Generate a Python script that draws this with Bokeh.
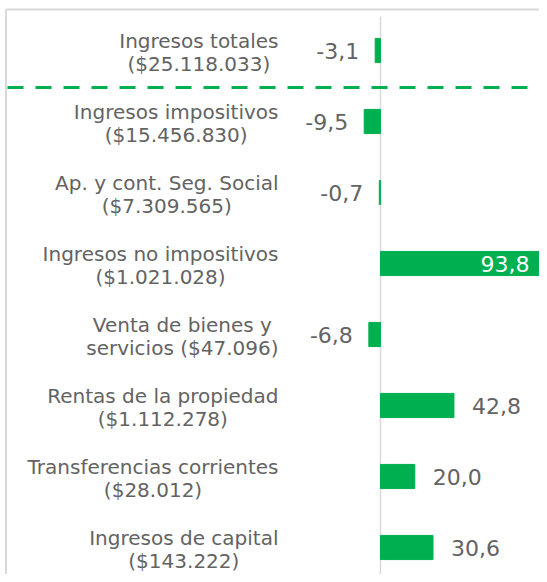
from bokeh.plotting import figure
from bokeh.models import Range1d
from bokeh.core.properties import value
from bokeh.embed import file_html
from bokeh.resources import INLINE

categories = [
    "Ingresos totales\n($25.118.033)",
    "Ingresos impositivos\n($15.456.830)",
    "Ap. y cont. Seg. Social\n($7.309.565)",
    "Ingresos no impositivos\n($1.021.028)",
    "Venta de bienes y\nservicios ($47.096)",
    "Rentas de la propiedad\n($1.112.278)",
    "Transferencias corrientes\n($28.012)",
    "Ingresos de capital\n($143.222)",
]
values = [-3.1, -9.5, -0.7, 93.8, -6.8, 42.8, 20.0, 30.6]
value_labels = ["-3,1", "-9,5", "-0,7", "93,8", "-6,8", "42,8", "20,0", "30,6"]

GREEN = "#00B050"
GRAY_TEXT = "#636363"
LINE_GRAY = "#d9d9d9"
FONT = value("DejaVu Sans")

W, H = 539, 574
ZERO_PX, SCALE_X = 380.0, 1.716      # px of zero, px per unit
ROW0_PX, ROW_STEP = 50.0, 71.0       # px of first row centre, px per row

X0 = -ZERO_PX / SCALE_X
X1 = (W - ZERO_PX) / SCALE_X
Y_TOP = -ROW0_PX / ROW_STEP
Y_BOT = (H - ROW0_PX) / ROW_STEP
XL = (5.5 - ZERO_PX) / SCALE_X       # left border
YT = (9.0 - ROW0_PX) / ROW_STEP      # top border

ys = list(range(len(values)))

p = figure(width=W, height=H, x_range=Range1d(X0, X1), y_range=Range1d(Y_BOT, Y_TOP),
           output_backend="svg", toolbar_location=None, min_border=0)
p.axis.visible = False
p.grid.visible = False
p.outline_line_color = None
p.background_fill_color = "white"

# borders (top and left)
p.segment(x0=[XL, XL], y0=[YT, YT], x1=[XL, X1], y1=[Y_BOT, YT],
          line_color=LINE_GRAY, line_width=2)

# zero line
p.segment(x0=[0], y0=[-0.48], x1=[0], y1=[Y_BOT], line_color=LINE_GRAY, line_width=1.5)

# bars
p.hbar(y=ys, left=0, right=values, height=0.34, fill_color=GREEN, line_color=GREEN)

# dashed separator
p.segment(x0=[(7 - ZERO_PX) / SCALE_X], y0=[0.52], x1=[X1], y1=[0.52],
          line_color=GREEN, line_width=3, line_dash="16 12")

# category labels
p.text(x=[0] * len(ys), y=[y + 0.03 for y in ys], text=categories, x_offset=-102, anchor="center_right",
       text_align="center", text_baseline="middle", text_font=FONT, text_font_size="20px",
       text_color=GRAY_TEXT, text_line_height=0.95)

# value labels
neg = [i for i, v in enumerate(values) if v < 0]
pos_out = [i for i, v in enumerate(values) if 0 <= v < 80]
pos_in = [i for i, v in enumerate(values) if v >= 80]

common = dict(text_baseline="middle", text_font=FONT, text_font_size="22px")
p.text(x=[values[i] for i in neg], y=[ys[i] for i in neg], text=[value_labels[i] for i in neg],
       x_offset=-16, text_align="right", text_color=GRAY_TEXT, **common)
p.text(x=[values[i] for i in pos_out], y=[ys[i] for i in pos_out], text=[value_labels[i] for i in pos_out],
       x_offset=18, text_align="left", text_color=GRAY_TEXT, **common)
p.text(x=[values[i] for i in pos_in], y=[ys[i] for i in pos_in], text=[value_labels[i] for i in pos_in],
       x_offset=-12, text_align="right", text_color="white", **common)

open("out.html", "w").write(file_html(p, INLINE))
